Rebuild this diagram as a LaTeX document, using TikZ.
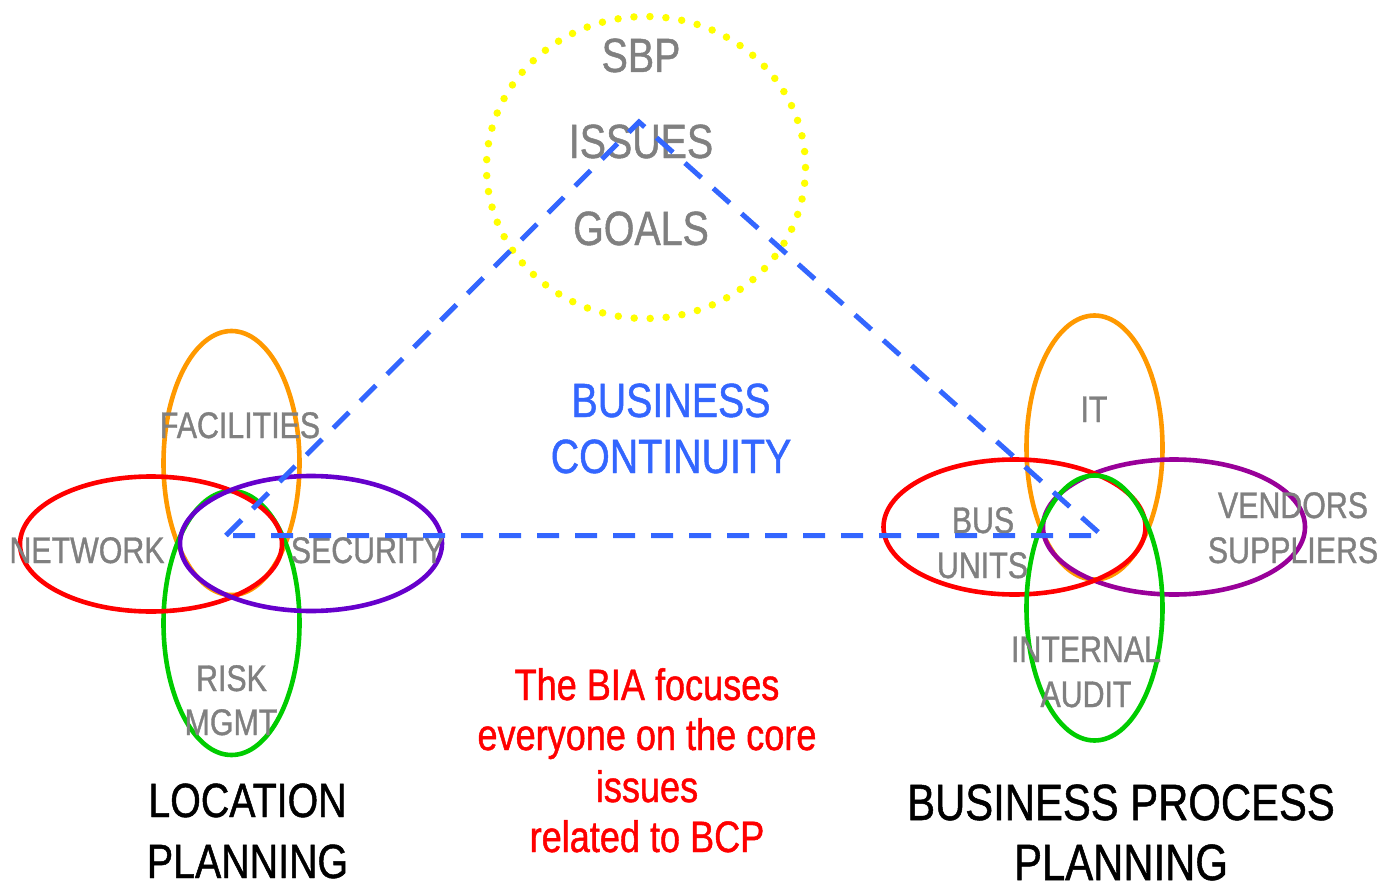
\documentclass[tikz,border=0pt]{standalone}
\usepackage{fontspec}
\setmainfont{Liberation Sans}[FakeStretch=0.82,FakeBold=1]
\usetikzlibrary{shapes.geometric}
\definecolor{lblgray}{HTML}{808080}
\definecolor{bcblue}{HTML}{3366FF}
\definecolor{ringorange}{HTML}{FF9900}
\definecolor{ringred}{HTML}{FF0000}
\definecolor{ringgreen}{HTML}{00CC00}
\definecolor{ringviolet}{HTML}{6600CC}
\definecolor{ringpurple}{HTML}{990099}
\definecolor{ringyellow}{HTML}{FFFF00}
\begin{document}
\begin{tikzpicture}[x=1pt,y=-1pt,
  ring/.style={ellipse, draw, line width=4.6pt, inner sep=0pt, fill=none},
  vring/.style={ring, minimum width=136pt, minimum height=264pt},
  hring/.style={ring, minimum width=262pt, minimum height=135pt},
  dotring/.style={ellipse, draw=ringyellow, line width=7.5pt, line cap=round,
     dash pattern=on 0pt off 16pt, inner sep=0pt, minimum width=319pt, minimum height=302pt},
  lbl/.style={text=lblgray, font=\fontsize{37}{37}\selectfont, inner sep=0pt, anchor=base},
  toplbl/.style={lbl, font=\fontsize{48}{48}\selectfont},
  bclbl/.style={text=bcblue, font=\fontsize{48}{48}\selectfont, inner sep=0pt, anchor=base},
  bialbl/.style={text=ringred, font=\fontsize{44}{44}\selectfont, inner sep=0pt, anchor=base},
  planlbl/.style={text=black, font=\fontsize{48}{48}\selectfont, inner sep=0pt, anchor=base},
  bplbl/.style={text=black, font=\fontsize{51}{51}\selectfont, inner sep=0pt, anchor=base},
  bcline/.style={draw=bcblue, line width=5pt, dash pattern=on 22pt off 16pt}
]
\useasboundingbox (0,0) rectangle (1395,888);

% SBP ring
\node[dotring] (sbpring) at (646,167.5) {};

% left cluster
\node[vring, draw=ringorange] (lfac) at (231.5,463) {};
\node[vring, draw=ringgreen] (lrisk) at (231.5,623) {};
\node[hring, draw=ringred] (lnet) at (151,544) {};
\node[hring, draw=ringviolet] (lsec) at (311,543.5) {};

% right cluster
\node[vring, draw=ringorange] (rit) at (1094.5,447.5) {};
\node[hring, draw=ringpurple] (rven) at (1174,527) {};
\node[hring, draw=ringred] (rbus) at (1014.5,527) {};
\node[vring, draw=ringgreen, minimum height=265pt] (raud) at (1094.5,608) {};

% labels
\node[toplbl] (tsbp) at (641,72) {SBP};
\node[toplbl] (tiss) at (641,158) {ISSUES};
\node[toplbl] (tgoal) at (641,245) {GOALS};

\node[lbl] (tfac) at (240,438) {FACILITIES};
\node[lbl] (tnet) at (87,563) {NETWORK};
\node[lbl] (tsec) at (367.5,563) {SECURITY};
\node[lbl] (trisk) at (231.5,691) {RISK};
\node[lbl] (tmgmt) at (231,735) {MGMT};

\node[lbl] (tit) at (1094,422) {IT};
\node[lbl] (tbus) at (983,533) {BUS};
\node[lbl] (tunits) at (982.5,578) {UNITS};
\node[lbl] (tven) at (1293,518) {VENDORS};
\node[lbl] (tsup) at (1293,563) {SUPPLIERS};
\node[lbl] (tint) at (1086,662) {INTERNAL};
\node[lbl] (taud) at (1086,707) {AUDIT};

\node[bclbl] (tbc1) at (671,417) {BUSINESS};
\node[bclbl] (tbc2) at (671,473) {CONTINUITY};

\node[bialbl] (tb1) at (647,700) {The BIA focuses};
\node[bialbl] (tb2) at (647,750) {everyone on the core};
\node[bialbl] (tb3) at (647,802) {issues};
\node[bialbl] (tb4) at (647,852) {related to BCP};

\node[planlbl] (tloc1) at (247.5,817) {LOCATION};
\node[planlbl] (tloc2) at (247.5,878) {PLANNING};
\node[bplbl] (tbp1) at (1121,820) {BUSINESS PROCESS};
\node[bplbl] (tbp2) at (1121,880) {PLANNING};

% dashed triangle
\coordinate (apex) at (639,122);
\coordinate (lcorner) at (226,535.5);
\coordinate (rcorner) at (1102,535.5);
\draw[bcline] (lcorner) -- (apex) -- (rcorner) -- cycle;
\end{tikzpicture}
\end{document}
